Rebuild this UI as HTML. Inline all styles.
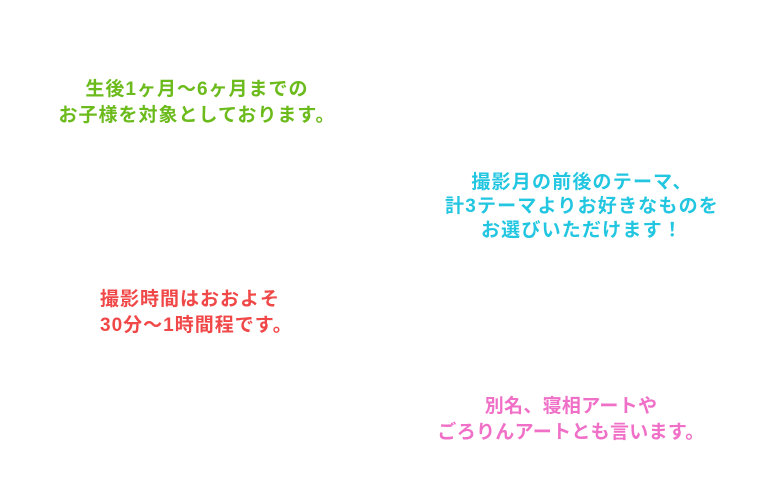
<!DOCTYPE html>
<html><head><meta charset="utf-8"><style>
html,body{margin:0;padding:0;background:#fff;width:760px;height:500px;overflow:hidden;position:relative}
.t{position:absolute;text-align:center;font-family:"Liberation Sans","Noto Sans CJK JP",sans-serif;font-size:19px;letter-spacing:1px;line-height:26px;font-weight:bold;white-space:nowrap;width:400px}
</style></head><body>
<div class="t" style="left:-3px;top:77px;color:#6cbb1c">生後1ヶ月〜6ヶ月までの<br>お子様を対象としております。</div>
<div class="t" style="left:382px;top:171px;color:#22c6e0;line-height:24px;letter-spacing:1.2px">撮影月の前後のテーマ、<br>計3テーマよりお好きなものを<br>お選びいただけます！</div>
<div class="t" style="left:100px;top:287px;color:#f04848;text-align:left">撮影時間はおおよそ<br>30分〜1時間程です。</div>
<div class="t" style="left:371px;top:394px;color:#f070c8;letter-spacing:0.3px">別名、寝相アートや<br>ごろりんアートとも言います。</div>
</body></html>
